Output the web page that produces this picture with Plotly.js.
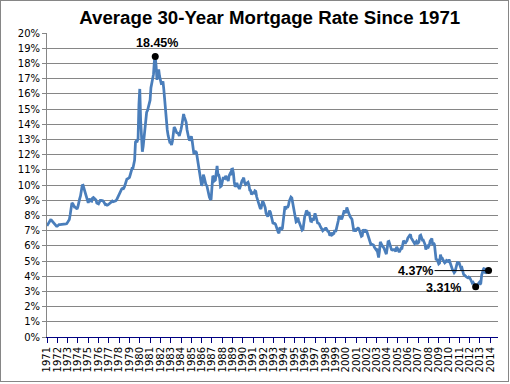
<!DOCTYPE html>
<html>
<head>
<meta charset="utf-8">
<script src="https://cdn.plot.ly/plotly-3.0.1.min.js"></script>
<style>
  html, body { margin: 0; padding: 0; background: #ffffff; }
  #wrap { position: relative; width: 510px; height: 384px; }
  #chart { width: 510px; height: 384px; }
  #frame { position: absolute; left: 0; top: 0; width: 507px; height: 380px; border: 1px solid #868686; pointer-events: none; }
</style>
</head>
<body>
<div id="wrap">
  <div id="chart"></div>
  <div id="frame"></div>
</div>
<script>
// Monthly average 30-year mortgage rate (%), starting April 1971
const startYear = 1971;
const startMonth = 4;

const rates1971_1980 = [
  7.31, 7.43, 7.53, 7.60, 7.70, 7.69, 7.63, 7.55, 7.48,
  7.44, 7.32, 7.29, 7.29, 7.37, 7.40, 7.40, 7.40, 7.42, 7.42, 7.43, 7.44,
  7.44, 7.44, 7.46, 7.54, 7.65, 7.73, 8.05, 8.50, 8.82, 8.77, 8.58, 8.54,
  8.54, 8.46, 8.41, 8.58, 8.97, 9.09, 9.28, 9.59, 9.96, 9.98, 9.79, 9.62,
  9.43, 9.10, 8.89, 8.82, 8.99, 9.10, 8.95, 8.93, 9.14, 9.18, 9.13, 9.08,
  9.02, 8.82, 8.79, 8.76, 8.87, 8.99, 8.99, 9.00, 8.96, 8.90, 8.82, 8.71,
  8.72, 8.67, 8.69, 8.75, 8.83, 8.86, 8.94, 8.94, 8.90, 8.92, 8.92, 8.96,
  9.02, 9.15, 9.20, 9.36, 9.57, 9.71, 9.74, 9.78, 9.76, 9.86, 10.11, 10.35,
  10.39, 10.41, 10.43, 10.50, 10.69, 11.04, 11.09, 11.09, 11.30, 11.64, 12.83, 12.90,
  12.88, 13.04, 15.28, 16.32, 14.26, 12.71, 12.19, 12.56, 13.20, 13.79, 14.21, 14.79
];
const rates1981_1990 = [
  14.90, 15.13, 15.40, 15.58, 16.40, 16.70, 16.83, 17.29, 18.16, 18.45, 17.83, 16.92,
  17.40, 17.60, 17.16, 16.89, 16.68, 16.70, 16.82, 16.27, 15.43, 14.61, 13.83, 13.62,
  13.25, 13.04, 12.80, 12.78, 12.63, 12.87, 13.42, 13.81, 13.73, 13.54, 13.44, 13.42,
  13.37, 13.23, 13.39, 13.65, 13.94, 14.42, 14.67, 14.47, 14.35, 14.13, 13.64, 13.18,
  13.08, 12.92, 13.17, 13.20, 12.91, 12.22, 12.03, 12.19, 12.19, 12.14, 11.78, 11.26,
  10.88, 10.71, 10.08, 9.94, 10.14, 10.68, 10.51, 10.20, 10.01, 9.98, 9.70, 9.32,
  9.20, 9.08, 9.04, 9.83, 10.60, 10.54, 10.28, 10.33, 10.89, 11.26, 10.65, 10.65,
  10.43, 9.89, 9.93, 10.20, 10.46, 10.46, 10.43, 10.60, 10.48, 10.30, 10.27, 10.61,
  10.73, 10.65, 11.03, 11.05, 10.77, 10.20, 9.88, 9.99, 10.13, 9.95, 9.77, 9.74,
  9.90, 10.20, 10.27, 10.37, 10.48, 10.16, 10.04, 10.10, 10.18, 10.18, 10.01, 9.67
];
const rates1991_2000 = [
  9.64, 9.37, 9.50, 9.49, 9.47, 9.62, 9.58, 9.24, 9.01, 8.86, 8.71, 8.50,
  8.43, 8.76, 8.94, 8.85, 8.67, 8.51, 8.13, 7.98, 7.92, 8.09, 8.31, 8.22,
  7.99, 7.68, 7.50, 7.47, 7.47, 7.42, 7.21, 7.11, 6.92, 6.83, 7.16, 7.17,
  7.06, 7.15, 7.68, 8.32, 8.60, 8.40, 8.61, 8.51, 8.64, 8.93, 9.17, 9.20,
  9.15, 8.83, 8.46, 8.32, 7.96, 7.57, 7.61, 7.86, 7.64, 7.48, 7.38, 7.20,
  7.03, 7.08, 7.62, 7.93, 8.07, 8.32, 8.25, 8.00, 8.23, 7.92, 7.62, 7.60,
  7.82, 7.65, 7.90, 8.14, 7.94, 7.69, 7.50, 7.48, 7.43, 7.29, 7.21, 7.10,
  6.99, 7.04, 7.13, 7.14, 7.14, 7.00, 6.95, 6.92, 6.72, 6.71, 6.87, 6.72,
  6.79, 6.81, 7.04, 6.92, 7.15, 7.55, 7.63, 7.94, 7.82, 7.85, 7.74, 7.91,
  8.21, 8.33, 8.24, 8.15, 8.52, 8.29, 8.15, 8.03, 7.91, 7.80, 7.75, 7.38
];
const rates2001_2014 = [
  7.03, 7.05, 6.95, 7.08, 7.15, 7.16, 7.13, 6.95, 6.82, 6.62, 6.66, 7.07,
  7.00, 6.89, 7.01, 6.99, 6.81, 6.65, 6.49, 6.29, 6.09, 6.11, 6.07, 6.05,
  5.92, 5.84, 5.75, 5.81, 5.48, 5.23, 5.63, 6.26, 6.15, 5.95, 5.93, 5.88,
  5.71, 5.64, 5.45, 5.83, 6.27, 6.29, 6.06, 5.87, 5.75, 5.72, 5.73, 5.75,
  5.71, 5.63, 5.93, 5.86, 5.72, 5.58, 5.70, 5.82, 5.77, 6.07, 6.33, 6.27,
  6.15, 6.25, 6.32, 6.51, 6.60, 6.68, 6.76, 6.52, 6.40, 6.36, 6.24, 6.14,
  6.22, 6.29, 6.16, 6.18, 6.26, 6.66, 6.70, 6.57, 6.38, 6.38, 6.21, 6.10,
  5.76, 5.92, 5.97, 5.92, 6.04, 6.32, 6.43, 6.48, 6.04, 6.20, 6.09, 5.33,
  5.06, 5.13, 5.00, 4.81, 4.86, 5.42, 5.22, 5.19, 5.06, 4.95, 4.88, 4.93,
  5.03, 4.99, 4.97, 5.10, 4.89, 4.74, 4.56, 4.43, 4.35, 4.23, 4.30, 4.71,
  4.76, 4.95, 4.84, 4.84, 4.64, 4.51, 4.55, 4.27, 4.11, 4.07, 3.99, 3.96,
  3.92, 3.89, 3.95, 3.91, 3.80, 3.68, 3.55, 3.60, 3.50, 3.38, 3.31, 3.35,
  3.41, 3.53, 3.57, 3.45, 3.54, 4.07, 4.37, 4.46, 4.55, 4.19, 4.26, 4.46,
  4.45, 4.37
];

const yearLabels = ["1971","1972","1973","1974","1975","1976","1977","1978","1979","1980",
  "1981","1982","1983","1984","1985","1986","1987","1988","1989","1990",
  "1991","1992","1993","1994","1995","1996","1997","1998","1999","2000",
  "2001","2002","2003","2004","2005","2006","2007","2008","2009","2010",
  "2011","2012","2013","2014"];

const titleText = "Average 30-Year Mortgage Rate Since 1971";

const rates = [].concat(rates1971_1980, rates1981_1990, rates1991_2000, rates2001_2014);
const months = rates.map((_, i) => startYear + (startMonth - 1 + i) / 12);

let iMax = 0, iMin = 0;
rates.forEach((v, i) => { if (v > rates[iMax]) iMax = i; if (v < rates[iMin]) iMin = i; });
const iLast = rates.length - 1;
const fmt = v => v.toFixed(2) + "%";

const tickPos = yearLabels.map(y => Number(y) + (startMonth - 1) / 12);

const tickFont = { family: "DejaVu Sans", size: 10, color: "#000000" };
const labelFont = { family: "Liberation Sans", size: 12.5, color: "#000000", weight: "bold" };

const traces = [
  {
    x: months, y: rates, type: "scatter", mode: "lines",
    line: { color: "#4A7EBB", width: 2.75 },
    hoverinfo: "skip"
  },
  {
    x: [months[iMax], months[iMin], months[iLast]],
    y: [rates[iMax], rates[iMin], rates[iLast]],
    type: "scatter", mode: "markers",
    marker: { color: "#000000", size: 7 },
    hoverinfo: "skip"
  }
];

const layout = {
  width: 510, height: 384,
  margin: { l: 47, r: 12, t: 33, b: 47, pad: 0 },
  paper_bgcolor: "#ffffff", plot_bgcolor: "#ffffff",
  showlegend: false,
  title: {
    text: titleText,
    font: { family: "Liberation Sans", size: 18.67, color: "#000000", weight: "bold" },
    xref: "container", x: 0.529, xanchor: "center",
    yref: "container", y: 1 - 17.5 / 384, yanchor: "middle"
  },
  xaxis: {
    range: [startYear + (startMonth - 1) / 12, 2015.0],
    tickmode: "array", tickvals: tickPos, ticktext: yearLabels,
    tickangle: -90, ticks: "outside", ticklen: 5, tickwidth: 1, tickcolor: "#000080",
    showline: true, linecolor: "#000080", linewidth: 1,
    showgrid: false, zeroline: false, tickfont: tickFont
  },
  yaxis: {
    range: [0, 20], tick0: 0, dtick: 1, ticksuffix: "%",
    ticks: "outside", ticklen: 4, tickcolor: "#868686",
    showline: true, linecolor: "#868686", linewidth: 1,
    showgrid: true, gridcolor: "#868686", gridwidth: 1,
    zeroline: false, tickfont: tickFont
  },
  annotations: [
    {
      x: months[iMax], y: rates[iMax], text: fmt(rates[iMax]),
      showarrow: false, xanchor: "center", yanchor: "bottom", xshift: 2, yshift: 5,
      font: labelFont
    },
    {
      x: months[iMin], y: rates[iMin], text: fmt(rates[iMin]),
      showarrow: false, xanchor: "right", yanchor: "middle", xshift: -13, yshift: -1,
      font: labelFont
    },
    {
      x: months[iLast], y: rates[iLast], text: fmt(rates[iLast]),
      showarrow: true, arrowhead: 0, arrowwidth: 1, arrowcolor: "#000000",
      ax: -73, ay: 0, standoff: 0, borderpad: 1,
      font: labelFont
    }
  ]
};

Plotly.newPlot("chart", traces, layout, { staticPlot: true, displayModeBar: false });
</script>
</body>
</html>
